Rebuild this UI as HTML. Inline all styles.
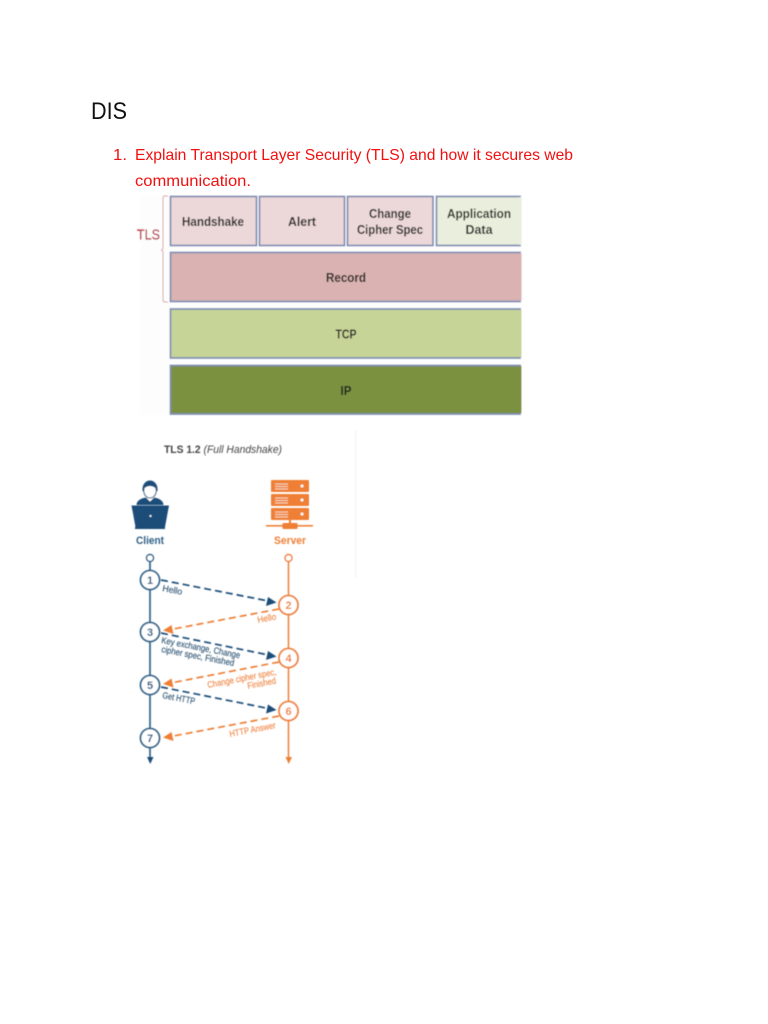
<!DOCTYPE html>
<html><head><meta charset="utf-8"><style>
html,body{margin:0;padding:0;background:#fff}
svg{display:block}
text{font-family:"Liberation Sans",sans-serif}
</style></head><body>
<svg width="768" height="1024" viewBox="0 0 768 1024" xmlns="http://www.w3.org/2000/svg">
<defs><filter id="b" x="-5%" y="-5%" width="110%" height="110%"><feGaussianBlur stdDeviation="0.5"/></filter></defs>
<rect width="768" height="1024" fill="#fff"/>
<text x="91" y="119" font-size="24" fill="#111" textLength="36" lengthAdjust="spacingAndGlyphs">DIS</text>
<g font-size="16" fill="#f01010">
<text x="113" y="160" textLength="14" lengthAdjust="spacingAndGlyphs">1.</text>
<text x="135" y="160" textLength="438" lengthAdjust="spacingAndGlyphs">Explain Transport Layer Security (TLS) and how it secures web</text>
<text x="135" y="186" textLength="116" lengthAdjust="spacingAndGlyphs">communication.</text>
</g>
<g filter="url(#b)">
<rect x="140" y="195" width="382" height="220" fill="#fdfdfd"/>
<g stroke="#7f8db3" stroke-width="1.700">
<rect x="170.500" y="196.500" width="86" height="49" fill="#ecd8d8"/>
<rect x="259.500" y="196.500" width="85" height="49" fill="#ecd8d8"/>
<rect x="347.500" y="196.500" width="85.500" height="49" fill="#ecd8d8"/>
<path d="M521 196.500H436.500V245.500H521" fill="#e9efdc"/>
<path d="M521 252.500H170.500V301.500H521" fill="#d9b2b1"/>
<path d="M521 309H170.500V358H521" fill="#c6d498"/>
<path d="M521 365.500H170.500V414H521" fill="#7c9140"/>
</g>
<rect x="519.500" y="197" width="2" height="48" fill="#e9efdc"/>
<rect x="519.500" y="253" width="2" height="48" fill="#d9b2b1"/>
<rect x="519.500" y="310" width="2" height="47" fill="#c6d498"/>
<rect x="519.500" y="366" width="2" height="47" fill="#7c9140"/>
<path d="M168 196H165Q163 196 163 198V247Q163 250 161 250Q163 250 163 253V300Q163 302 165 302H168" fill="none" stroke="#d9a0a4" stroke-width="1"/>
<text x="137" y="239.500" font-size="15" fill="#b5303e" stroke="#b5303e" stroke-width="0.250" textLength="23" lengthAdjust="spacingAndGlyphs">TLS</text>
<g font-size="13" font-weight="bold" fill="#1e1e1e" text-anchor="middle">
<text x="213" y="226" textLength="62" lengthAdjust="spacingAndGlyphs">Handshake</text>
<text x="302" y="226" textLength="28" lengthAdjust="spacingAndGlyphs">Alert</text>
<text x="390" y="218" textLength="42" lengthAdjust="spacingAndGlyphs">Change</text>
<text x="390" y="234" textLength="66" lengthAdjust="spacingAndGlyphs">Cipher Spec</text>
<text x="479" y="218" textLength="64" lengthAdjust="spacingAndGlyphs">Application</text>
<text x="479" y="234" textLength="27" lengthAdjust="spacingAndGlyphs">Data</text>
<text x="346" y="282" textLength="40" lengthAdjust="spacingAndGlyphs">Record</text>
<text x="346" y="338.500" textLength="21" lengthAdjust="spacingAndGlyphs">TCP</text>
<text x="346" y="395" textLength="11" lengthAdjust="spacingAndGlyphs">IP</text>
</g>
</g>
<g filter="url(#b)">
<path d="M355.500 430V578" stroke="#f2f2f2" stroke-width="1"/>
<text x="164" y="453" font-size="11" fill="#444" textLength="118" lengthAdjust="spacingAndGlyphs"><tspan font-weight="bold">TLS 1.2</tspan> <tspan font-style="italic">(Full Handshake)</tspan></text>
<!-- client icon -->
<g fill="#1d4e79">
<path d="M136.500 505c0-4 4-6.500 9-7.500l4.500 4 4.500-4c5 1 9 3.500 9 7.500z"/>
<path d="M131.500 505.500H169L165 527H135.500z"/>
<rect x="135" y="527" width="30" height="2"/>
<path d="M142.500 489a7.500 8.500 0 0 1 15 0v2h-15z"/>
</g>
<ellipse cx="150" cy="490.500" rx="6.200" ry="7.500" fill="#fff" stroke="#1d4e79" stroke-width="1"/>
<path d="M143.500 489q0-6 6.500-6q6.500 0 6.500 6q-3-3-6.500-3q-3.500 0-6.500 3z" fill="#1d4e79"/>
<path d="M148 498.500l2 3 2-3" fill="#fff"/>
<circle cx="150.500" cy="516" r="1" fill="#fff"/>
<text x="150" y="544" font-size="11" font-weight="bold" fill="#2f5f85" text-anchor="middle" textLength="28" lengthAdjust="spacingAndGlyphs">Client</text>
<!-- server icon -->
<g fill="#ee7f36">
<rect x="271" y="480" width="38" height="12" rx="1"/>
<rect x="271" y="494" width="38" height="12" rx="1"/>
<rect x="271" y="508" width="38" height="12" rx="1"/>
<rect x="289" y="520" width="2" height="6"/>
<rect x="266" y="525" width="47" height="1.600"/>
<rect x="282.500" y="523" width="15" height="6" rx="1"/>
</g>
<g stroke="#f8d5bb" stroke-width="1">
<path d="M275 484h13M275 486.500h13M275 489h13M275 498h13M275 500.500h13M275 503h13M275 512h13M275 514.500h13M275 517h13"/>
</g>
<g fill="#fff"><circle cx="302" cy="486" r="1.500"/><circle cx="302" cy="500" r="1.500"/><circle cx="302" cy="514" r="1.500"/></g>
<text x="290" y="544" font-size="11" font-weight="bold" fill="#ee7f36" text-anchor="middle" textLength="32" lengthAdjust="spacingAndGlyphs">Server</text>
<!-- lifelines -->
<path d="M150 562V757" stroke="#2f6489" stroke-width="1.700"/>
<path d="M288.500 562V757" stroke="#ee7f36" stroke-width="1.500"/>
<path d="M147 757h6.500l-3.250 7z" fill="#1d4e79"/>
<path d="M285.500 757h6.500l-3.250 7z" fill="#ee7f36"/>
<circle cx="150" cy="558" r="3.500" fill="#fff" stroke="#2f6489" stroke-width="1.400"/>
<circle cx="288.500" cy="558" r="3.500" fill="#fff" stroke="#ee7f36" stroke-width="1.400"/>
<!-- arrows -->
<g fill="none" stroke-width="1.700" stroke-dasharray="7 4">
<path d="M161 580L271 601.500" stroke="#1d4e79"/>
<path d="M279 609L168 630" stroke="#ee7f36"/>
<path d="M161 633L271 655.500" stroke="#1d4e79"/>
<path d="M279 662L168 683.500" stroke="#ee7f36"/>
<path d="M161 687L271 709" stroke="#1d4e79"/>
<path d="M279 716L168 737" stroke="#ee7f36"/>
</g>
<g fill="#1d4e79">
<path d="M276.500 602.500l-8.500-5.500 -2 9z"/><path d="M276.500 656.500l-8.500-5.500 -2 9z"/><path d="M276.500 710l-8.500-5.500 -2 9z"/>
</g>
<g fill="#ee7f36">
<path d="M163 630.500l8.500-5.500 2 9z"/><path d="M163 684l8.500-5.500 2 9z"/><path d="M163 737.500l8.500-5.500 2 9z"/>
</g>
<!-- numbered nodes -->
<g fill="#fff" stroke-width="1.800">
<circle cx="150" cy="580" r="9.500" stroke="#2f6489"/>
<circle cx="150" cy="632" r="9.500" stroke="#2f6489"/>
<circle cx="150" cy="685" r="9.500" stroke="#2f6489"/>
<circle cx="150" cy="738" r="9.500" stroke="#2f6489"/>
<circle cx="288.500" cy="605" r="9.500" stroke="#ee7f36"/>
<circle cx="288.500" cy="658" r="9.500" stroke="#ee7f36"/>
<circle cx="288.500" cy="711" r="9.500" stroke="#ee7f36"/>
</g>
<g font-size="11" font-weight="bold" text-anchor="middle" fill="#1d4e79">
<text x="150" y="584">1</text><text x="150" y="636">3</text><text x="150" y="689">5</text><text x="150" y="742">7</text>
</g>
<g font-size="11" font-weight="bold" text-anchor="middle" fill="#ee7f36">
<text x="288.500" y="609">2</text><text x="288.500" y="662">4</text><text x="288.500" y="715">6</text>
</g>
<!-- arrow labels -->
<g font-size="9" fill="#2f5573" stroke="#2f5573" stroke-width="0.150">
<text transform="translate(162 591) rotate(11)" textLength="20" lengthAdjust="spacingAndGlyphs">Hello</text>
<text transform="translate(161 643) rotate(11)" textLength="80" lengthAdjust="spacingAndGlyphs">Key exchange, Change</text>
<text transform="translate(161 652) rotate(11)" textLength="74" lengthAdjust="spacingAndGlyphs">cipher spec, Finished</text>
<text transform="translate(162 698) rotate(11)" textLength="33" lengthAdjust="spacingAndGlyphs">Get HTTP</text>
</g>
<g font-size="9" fill="#ee8848" stroke="#ee8848" stroke-width="0.150">
<text transform="translate(258 623) rotate(-11)" textLength="19" lengthAdjust="spacingAndGlyphs">Hello</text>
<text transform="translate(208 688) rotate(-11)" textLength="70" lengthAdjust="spacingAndGlyphs">Change cipher spec,</text>
<text transform="translate(248 689) rotate(-11)" textLength="29" lengthAdjust="spacingAndGlyphs">Finished</text>
<text transform="translate(230 737) rotate(-11)" textLength="47" lengthAdjust="spacingAndGlyphs">HTTP Answer</text>
</g>
</g>
</svg>
</body></html>
